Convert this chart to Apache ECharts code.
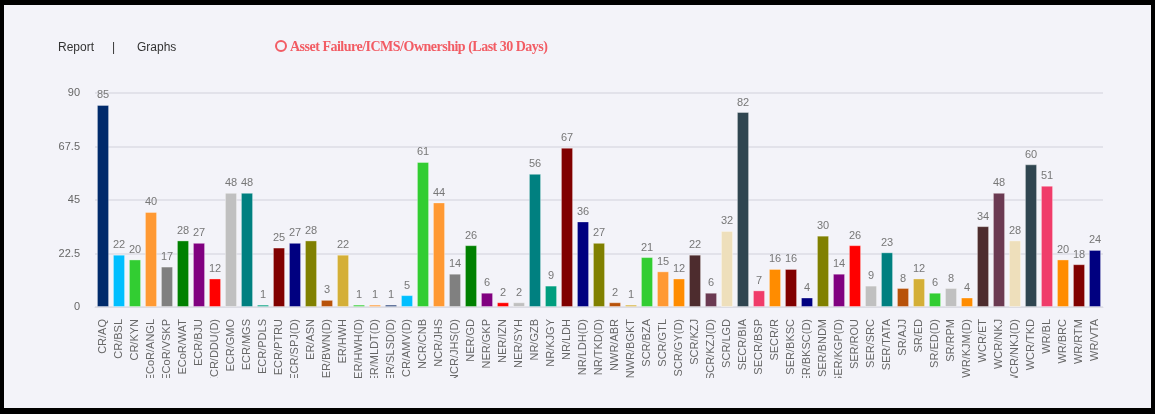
<!DOCTYPE html>
<html>
<head>
<meta charset="utf-8">
<script src="https://cdn.jsdelivr.net/npm/echarts@6/dist/echarts.min.js"></script>
<style>
  html, body { margin: 0; padding: 0; width: 1155px; height: 414px; background: #000; overflow: hidden; }
  #frame { position: absolute; left: 4px; top: 5px; width: 1147px; height: 403px; background: #f3f3f9; overflow: hidden; }
  #chart { position: absolute; left: -4px; top: -5px; width: 1155px; height: 378px; }
  .hdr { position: absolute; top: 35px; font-family: "Liberation Sans", Arial, sans-serif; font-size: 12px; color: #333; }
  #title { position: absolute; left: 271px; top: 34px; font-family: "Liberation Serif", "Times New Roman", serif; font-weight: bold; font-size: 14px; color: #f25c64; letter-spacing: -0.5px; }
  #title .ring { display: inline-block; width: 8px; height: 8px; border: 2px solid #f25c64; border-radius: 50%; vertical-align: -1px; margin-right: 3px; }
</style>
</head>
<body>
<div id="frame">
  <div id="chart"></div>
  <div class="hdr" style="left:54px;">Report</div>
  <div class="hdr" style="left:108px;">|</div>
  <div class="hdr" style="left:133px;">Graphs</div>
  <div id="title"><span class="ring"></span>Asset Failure/ICMS/Ownership (Last 30 Days)</div>
</div>
<script>
const categories = ["CR/AQ","CR/BSL","CR/KYN","ECoR/ANGL","ECoR/VSKP","ECoR/WAT","ECR/BJU","ECR/DDU(D)","ECR/GMO","ECR/MGS","ECR/PDLS","ECR/PTRU","ECR/SPJ(D)","ER/ASN","ER/BWN(D)","ER/HWH","ER/HWH(D)","ER/MLDT(D)","ER/SLSD(D)","NCR/AMV(D)","NCR/CNB","NCR/JHS","NCR/JHS(D)","NER/GD","NER/GKP","NER/IZN","NER/SYH","NR/GZB","NR/KJGY","NR/LDH","NR/LDH(D)","NR/TKD(D)","NWR/ABR","NWR/BGKT","SCR/BZA","SCR/GTL","SCR/GY(D)","SCR/KZJ","SCR/KZJ(D)","SCR/LGD","SECR/BIA","SECR/BSP","SECR/R","SER/BKSC","SER/BKSC(D)","SER/BNDM","SER/KGP(D)","SER/ROU","SER/SRC","SER/TATA","SR/AJJ","SR/ED","SR/ED(D)","SR/RPM","SWR/KJM(D)","WCR/ET","WCR/NKJ","WCR/NKJ(D)","WCR/TKD","WR/BL","WR/BRC","WR/RTM","WR/VTA"];
const values = [85,22,20,40,17,28,27,12,48,48,1,25,27,28,3,22,1,1,1,5,61,44,14,26,6,2,2,56,9,67,36,27,2,1,21,15,12,22,6,32,82,7,16,16,4,30,14,26,9,23,8,12,6,8,4,34,48,28,60,51,20,18,24];
const barColors = ["#002a6b","#00bfff","#32cd32","#ff9933","#808080","#008000","#800080","#ff0000","#c0c0c0","#008080","#009e7f","#800000","#000080","#808000","#b8520a","#d4af37","#32cd32","#ff9933","#1f3a73","#00bfff","#32cd32","#ff9933","#808080","#008000","#800080","#ff0000","#c0c0c0","#008080","#009e7f","#800000","#000080","#808000","#b8520a","#d4af37","#32cd32","#ff9933","#ff8c00","#4d2c2e","#6b3a52","#eedfbb","#2f4550","#f03c6a","#ff8c00","#800000","#000080","#808000","#800080","#ff0000","#c0c0c0","#008080","#b8520a","#d4af37","#32cd32","#c0c0c0","#ff8c00","#4d2c2e","#6b3a52","#eedfbb","#2f4550","#f03c6a","#ff8c00","#800000","#000080"];
const yTicks = [0, 22.5, 45, 67.5, 90];

const chart = echarts.init(document.getElementById('chart'), null, { renderer: 'canvas' });
chart.setOption({
  animation: false,
  backgroundColor: 'transparent',
  grid: { left: 95, right: 52, top: 93, bottom: 71, containLabel: false, outerBoundsMode: 'none' },
  xAxis: {
    type: 'category',
    data: categories,
    axisLine: { show: true, lineStyle: { color: '#dcdce4', width: 1 } },
    axisTick: { show: false },
    axisLabel: {
      interval: 0, rotate: 90, fontSize: 11, color: '#666',
      fontFamily: '"Liberation Sans", Arial, sans-serif', margin: 12
    }
  },
  yAxis: {
    type: 'value', min: yTicks[0], max: yTicks[yTicks.length - 1], interval: yTicks[1] - yTicks[0],
    axisLine: { show: false }, axisTick: { show: false },
    axisLabel: { fontSize: 11, color: '#666', margin: 15, fontFamily: '"Liberation Sans", Arial, sans-serif' },
    splitLine: { lineStyle: { color: '#dcdce4', width: 1.5 } }
  },
  series: [{
    type: 'bar',
    data: values.map((v, i) => ({ value: v, itemStyle: { color: barColors[i] } })),
    barCategoryGap: '24%',
    itemStyle: { borderColor: 'rgba(255,255,255,0.35)', borderWidth: 1 },
    label: { show: true, position: 'top', fontSize: 11, color: '#777', distance: 4, fontFamily: '"Liberation Sans", Arial, sans-serif' }
  }]
});
</script>
</body>
</html>
